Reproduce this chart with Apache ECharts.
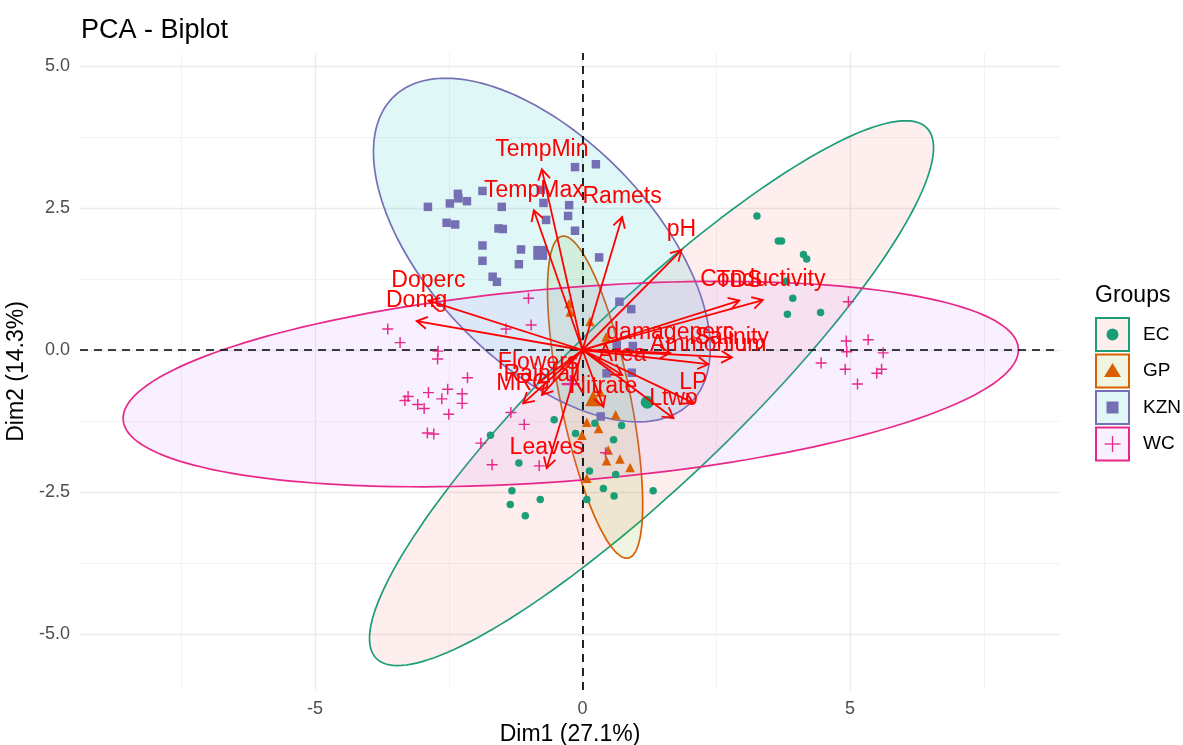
<!DOCTYPE html>
<html>
<head>
<meta charset="utf-8">
<script src="https://cdn.jsdelivr.net/npm/echarts@6/dist/echarts.min.js"></script>
<style>
  html, body { margin: 0; padding: 0; background: #ffffff; }
  #chart { width: 1183px; height: 745px; }
</style>
</head>
<body>
<div id="chart"></div>
<script>
// ---- groups ----
const groups = ['EC', 'GP', 'KZN', 'WC'];
const groupColors = ['#1B9E77', '#D95F02', '#7570B3', '#E7298A'];
const groupFills = ['rgba(248,118,109,0.12)', 'rgba(124,174,0,0.12)', 'rgba(0,191,196,0.12)', 'rgba(199,124,255,0.12)'];

// ---- individuals (Dim1, Dim2) ----
const pointsEC = [
  [3.26, 2.36], [3.66, 1.92], [3.72, 1.92], [4.13, 1.68], [4.19, 1.60], [3.81, 1.21],
  [3.93, 0.91], [3.83, 0.63], [4.45, 0.66], [-0.53, -1.23], [-0.13, -1.47], [-1.72, -1.50],
  [0.23, -1.29], [0.73, -1.33], [0.58, -1.58], [-1.19, -1.99], [0.13, -2.13], [0.62, -2.19],
  [-1.32, -2.48], [-1.35, -2.72], [-0.79, -2.63], [-1.07, -2.92], [0.39, -2.44], [0.59, -2.57],
  [1.32, -2.48], [0.08, -2.63]
];
const pointsGP = [
  [-0.25, 0.82], [-0.23, 0.67], [0.14, 0.50], [0.44, 0.23], [0.33, -0.74], [0.08, -1.27],
  [0.30, -1.38], [0.62, -1.14], [-0.01, -1.50], [0.48, -1.76], [0.45, -1.95], [0.70, -1.92],
  [0.89, -2.07], [0.08, -2.26]
];
const pointsKZN = [
  [-0.14, 3.22], [0.25, 3.27], [-2.89, 2.52], [-2.48, 2.58], [-2.33, 2.75], [-2.32, 2.67],
  [-2.16, 2.62], [-1.87, 2.80], [-1.51, 2.52], [-0.73, 2.59], [-0.78, 2.82], [-0.25, 2.55],
  [-2.54, 2.24], [-2.38, 2.21], [-1.57, 2.14], [-1.49, 2.13], [-0.68, 2.29], [-0.27, 2.36],
  [-0.14, 2.10], [-1.87, 1.84], [-1.87, 1.57], [-1.15, 1.77], [-1.19, 1.51], [-1.68, 1.29],
  [-1.60, 1.20], [0.31, 1.63], [0.69, 0.85], [0.91, 0.72], [0.64, 0.09], [0.94, 0.07],
  [0.45, -0.41], [0.92, -0.40], [0.34, -1.17]
];
const pointsWC = [
  [-3.64, 0.37], [-3.41, 0.13], [-2.70, -0.02], [-2.71, -0.16], [-2.15, -0.49], [-3.26, -0.82],
  [-3.32, -0.89], [-2.88, -0.75], [-2.52, -0.69], [-2.63, -0.86], [-2.25, -0.77], [-2.25, -0.94],
  [-3.08, -0.96], [-2.96, -1.03], [-2.50, -1.13], [-2.90, -1.46], [-2.78, -1.48], [-1.34, -1.10],
  [-1.09, -1.31], [-1.90, -1.64], [-1.69, -2.02], [-0.81, -2.04], [-1.01, 0.91], [-0.96, 0.44],
  [-1.43, 0.37], [0.43, -1.81], [4.97, 0.85], [4.93, 0.16], [5.34, 0.18], [4.94, -0.03],
  [5.62, -0.05], [4.46, -0.23], [4.91, -0.34], [5.59, -0.34], [5.50, -0.41], [5.14, -0.60]
];
const groupPoints = [pointsEC, pointsGP, pointsKZN, pointsWC];

// group barycentres
const groupMeans = [[1.21, -0.92], [0.20, -0.85], [-0.79, 1.71], [-0.22, -0.60]];

// concentration ellipses: centre x, centre y, semi-major, semi-minor, rotation (deg)
const ellipseCX = [1.29, 0.235, -0.76, -0.22];
const ellipseCY = [-0.76, -0.83, 1.76, -0.60];
const ellipseA = [6.95, 2.90, 3.87, 8.39];
const ellipseB = [1.58, 0.65, 2.02, 1.70];
const ellipseAngle = [42, 102.4, -43, 4.3];

// ---- variables (arrow tips) ----
const varNames = ['TempMin', 'TempMax', 'Ramets', 'pH', 'Doperc', 'Domg', 'Conductivity', 'TDS',
  'damageperc', 'Salinity', 'Ammonium', 'Area', 'Flowers', 'Rainfall', 'MRG', 'Nitrate', 'LP', 'Ltwo', 'Leaves'];
const varDim1 = [-0.76, -0.91, 0.74, 1.85, -2.88, -3.10, 3.37, 2.93, 1.64, 2.79, 2.35, 0.74, -0.83, -0.76, -1.11, 0.39, 2.07, 1.70, -0.67];
const varDim2 = [3.18, 2.46, 2.34, 1.76, 0.87, 0.51, 0.88, 0.87, -0.05, -0.13, -0.25, -0.44, -0.58, -0.79, -0.94, -1.00, -0.93, -1.20, -2.08];

// ---- axes ----
const xTicks = [-5, 0, 5];
const yTicks = [-5, -2.5, 0, 2.5, 5];
const xMinor = [-7.5, -2.5, 2.5, 7.5];
const yMinor = [-3.75, -1.25, 1.25, 3.75];
const xRange = [-9.393, 8.925];
const yRange = [-5.986, 5.229];

const FONT = '"Liberation Sans", Arial, Helvetica, sans-serif';
const PLUS_PATH = 'path://M4.35,0H5.65V4.35H10V5.65H5.65V10H4.35V5.65H0V4.35H4.35Z';
const groupSymbols = ['circle', 'triangle', 'rect', PLUS_PATH];
const pointSizes = [7.5, 9.5, 8.5, 11];
const meanSizes = [13, 16, 14, 18];

const chart = echarts.init(document.getElementById('chart'), null, { renderer: 'canvas' });

const series = [];

// background grid (major / minor)
series.push({
  type: 'scatter', data: [], silent: true, z: 0,
  markLine: {
    z: 0, silent: true, symbol: 'none', label: { show: false }, animation: false,
    lineStyle: { color: '#EBEBEB', width: 1.3, type: 'solid' },
    data: xTicks.map(v => ({ xAxis: v })).concat(yTicks.map(v => ({ yAxis: v })))
  }
});
series.push({
  type: 'scatter', data: [], silent: true, z: 0,
  markLine: {
    z: 0, silent: true, symbol: 'none', label: { show: false }, animation: false,
    lineStyle: { color: '#F0F0F0', width: 0.8, type: 'solid' },
    data: xMinor.map(v => ({ xAxis: v })).concat(yMinor.map(v => ({ yAxis: v })))
  }
});

// ellipses
series.push({
  type: 'custom', name: 'ellipses', z: 1, silent: true, clip: true,
  data: groups.map((g, i) => [ellipseCX[i], ellipseCY[i], ellipseA[i], ellipseB[i], ellipseAngle[i]]),
  encode: { x: 0, y: 1 },
  renderItem: function (params, api) {
    const i = params.dataIndex;
    const cx = api.value(0), cy = api.value(1), a = api.value(2), b = api.value(3);
    const t0 = api.value(4) * Math.PI / 180;
    const pts = [];
    for (let k = 0; k <= 180; k++) {
      const t = k / 180 * Math.PI * 2;
      const u = a * Math.cos(t), v = b * Math.sin(t);
      pts.push(api.coord([cx + u * Math.cos(t0) - v * Math.sin(t0), cy + u * Math.sin(t0) + v * Math.cos(t0)]));
    }
    return {
      type: 'polygon', shape: { points: pts },
      style: { fill: groupFills[i], stroke: groupColors[i], lineWidth: 1.7 }
    };
  }
});

// dashed origin lines
series.push({
  type: 'scatter', data: [], silent: true, z: 2,
  markLine: {
    z: 2, silent: true, symbol: 'none', label: { show: false }, animation: false,
    lineStyle: { color: '#000000', width: 1.7, type: [8, 6] },
    data: [{ xAxis: 0 }, { yAxis: 0 }]
  }
});

// individuals
groups.forEach((g, i) => {
  series.push({
    type: 'scatter', name: g, z: 3, silent: true,
    symbol: groupSymbols[i], symbolSize: pointSizes[i],
    itemStyle: { color: groupColors[i], opacity: 1 },
    data: groupPoints[i]
  });
});
// group means
groups.forEach((g, i) => {
  series.push({
    type: 'scatter', name: g + ' mean', z: 3, silent: true,
    symbol: groupSymbols[i], symbolSize: meanSizes[i],
    itemStyle: { color: groupColors[i], opacity: 1 },
    data: [groupMeans[i]]
  });
});

// variable arrows
const varData = varNames.map((n, i) => [varDim1[i], varDim2[i]]);
series.push({
  type: 'custom', name: 'arrows', z: 4, silent: true, clip: false,
  data: varData, encode: { x: 0, y: 1 },
  renderItem: function (params, api) {
    const o = api.coord([0, 0]);
    const t = api.coord([api.value(0), api.value(1)]);
    const ang = Math.atan2(t[1] - o[1], t[0] - o[0]);
    const L = 12, s = Math.PI / 6;
    const p1 = [t[0] - L * Math.cos(ang - s), t[1] - L * Math.sin(ang - s)];
    const p2 = [t[0] - L * Math.cos(ang + s), t[1] - L * Math.sin(ang + s)];
    return {
      type: 'group', children: [
        { type: 'line', shape: { x1: o[0], y1: o[1], x2: t[0], y2: t[1] }, style: { stroke: '#FF0000', lineWidth: 1.8 } },
        { type: 'polyline', shape: { points: [p1, t, p2] }, style: { stroke: '#FF0000', lineWidth: 1.8, fill: null } }
      ]
    };
  }
});
// variable labels
series.push({
  type: 'custom', name: 'varLabels', z: 5, silent: true, clip: false,
  data: varData, encode: { x: 0, y: 1 },
  renderItem: function (params, api) {
    const t = api.coord([api.value(0), api.value(1)]);
    return {
      type: 'text', x: t[0], y: t[1] - 20,
      style: {
        text: varNames[params.dataIndex], fill: '#FF0000',
        fontSize: 23, fontFamily: FONT, align: 'center', verticalAlign: 'middle'
      }
    };
  }
});

// legend drawn as keyed boxes
const legendGraphics = [{
  type: 'text', x: 1095, y: 296,
  style: { text: 'Groups', fontSize: 23, fontFamily: FONT, fill: '#000000', verticalAlign: 'middle' }
}];
groups.forEach((g, i) => {
  const top = 318 + i * 36.5;
  const cx = 1112.5, cy = top + 16.5;
  legendGraphics.push({
    type: 'rect', shape: { x: 1096, y: top, width: 33, height: 33 },
    style: { fill: groupFills[i], stroke: groupColors[i], lineWidth: 2 }
  });
  let sym;
  if (i === 0) sym = { type: 'circle', shape: { cx: cx, cy: cy, r: 6 }, style: { fill: groupColors[i] } };
  else if (i === 1) sym = { type: 'polygon', shape: { points: [[cx, cy - 8], [cx + 8.5, cy + 6], [cx - 8.5, cy + 6]] }, style: { fill: groupColors[i] } };
  else if (i === 2) sym = { type: 'rect', shape: { x: cx - 6, y: cy - 6, width: 12, height: 12 }, style: { fill: groupColors[i] } };
  else sym = { type: 'group', children: [
      { type: 'line', shape: { x1: cx - 8, y1: cy, x2: cx + 8, y2: cy }, style: { stroke: groupColors[i], lineWidth: 1.3 } },
      { type: 'line', shape: { x1: cx, y1: cy - 8, x2: cx, y2: cy + 8 }, style: { stroke: groupColors[i], lineWidth: 1.3 } }
    ] };
  legendGraphics.push(sym);
  legendGraphics.push({
    type: 'text', x: 1143, y: cy,
    style: { text: g, fontSize: 19, fontFamily: FONT, fill: '#000000', verticalAlign: 'middle', align: 'left' }
  });
});

chart.setOption({
  animation: false,
  backgroundColor: '#ffffff',
  title: {
    text: 'PCA - Biplot', left: 76, top: 12,
    textStyle: { fontSize: 27, fontWeight: 'normal', color: '#000000', fontFamily: FONT }
  },
  grid: { left: 80, right: 123, top: 53, bottom: 55, containLabel: false, outerBoundsMode: 'none' },
  xAxis: {
    type: 'value', min: xRange[0], max: xRange[1],
    name: 'Dim1 (27.1%)', nameLocation: 'middle', nameGap: 31,
    nameTextStyle: { fontSize: 23, color: '#000000', fontFamily: FONT },
    axisLine: { show: false }, axisTick: { show: false }, splitLine: { show: false },
    axisLabel: { customValues: xTicks, fontSize: 18, color: '#4D4D4D', fontFamily: FONT, margin: 10,
      formatter: v => String(v) }
  },
  yAxis: {
    type: 'value', min: yRange[0], max: yRange[1],
    name: 'Dim2 (14.3%)', nameLocation: 'middle', nameGap: 36, nameRotate: 90,
    nameTextStyle: { fontSize: 23, color: '#000000', fontFamily: FONT },
    axisLine: { show: false }, axisTick: { show: false }, splitLine: { show: false },
    axisLabel: { customValues: yTicks, fontSize: 18, color: '#4D4D4D', fontFamily: FONT, margin: 10,
      formatter: v => Number(v).toFixed(1) }
  },
  graphic: legendGraphics,
  series: series
});
</script>
</body>
</html>
